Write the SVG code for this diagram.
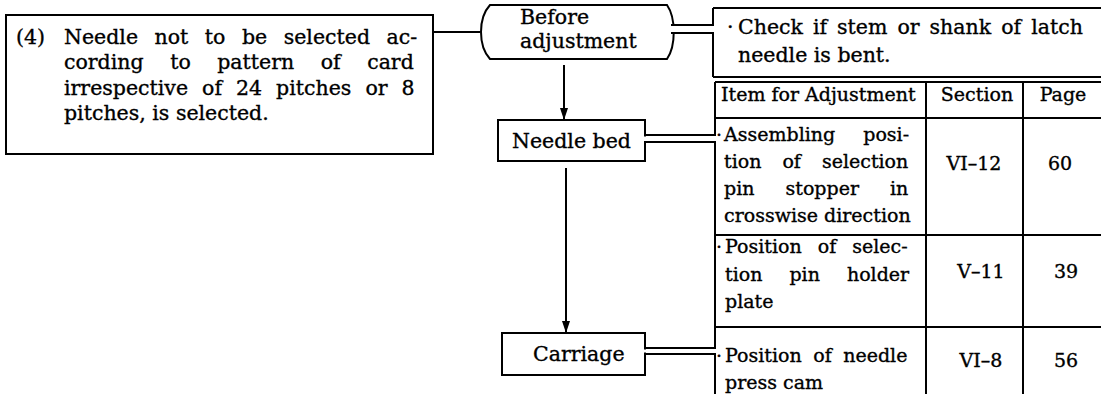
<svg xmlns="http://www.w3.org/2000/svg" width="1101" height="394" viewBox="0 0 1101 394">
<style>
text{font-family:"DejaVu Serif","Liberation Serif",serif;fill:#000;stroke:#000;stroke-width:0.35}
.t20{font-size:20.5px}
.t19{font-size:19px}
.hd{font-size:19px}
.box{fill:#fff;stroke:#000;stroke-width:2}
.ln{fill:none;stroke:#000;stroke-width:2}
.gap{fill:#fff;stroke:none}
.mid{text-anchor:middle}
</style>
<defs>
<marker id="arr" viewBox="0 0 12 8" refX="12" refY="4" markerWidth="12" markerHeight="8" markerUnits="userSpaceOnUse" orient="auto">
<path d="M0,0 L12,4 L0,8 Z" fill="#000"/>
</marker>
</defs>

<g id="problem">
<rect class="box" x="6" y="15" width="427" height="139"/>
<text class="t20" x="16" y="44">(4)</text>
<text class="t20" x="64" y="44" word-spacing="10">Needle not to be selected ac-</text>
<text class="t20" x="64" y="69" word-spacing="20">cording to pattern of card</text>
<text class="t20" x="64" y="95" word-spacing="7.5">irrespective of 24 pitches or 8</text>
<text class="t20" x="64" y="120">pitches, is selected.</text>
</g>

<g id="before-adjustment">
<path class="box" d="M490,5 L667,5 C676,18 676,46 667,59 L490,59 C478,46 478,18 490,5 Z"/>
<text class="t20" x="520" y="24" font-size="20">Before</text>
<text class="t20" x="520" y="47.5" font-size="20">adjustment</text>
</g>

<g id="needle-bed">
<rect class="box" x="498" y="120" width="147" height="41"/>
<text class="t20" x="512" y="148" font-size="20">Needle bed</text>
</g>

<g id="carriage">
<rect class="box" x="502" y="333" width="143" height="42"/>
<text class="t20" x="533" y="361" font-size="20">Carriage</text>
</g>

<g id="check">
<path class="ln" d="M1101,8 H713 M713,77 H1101"/>
<text class="t20" x="727" y="34" font-size="20">·</text>
<text class="t20" x="738" y="34" font-size="20" word-spacing="3.5">Check if stem or shank of latch</text>
<text class="t20" x="738" y="62" font-size="20">needle is bent.</text>
</g>

<g id="table">
<path class="ln" d="M715,82 H1101 M715,118 H1101 M715,235 H1101 M715,327 H1101 M926,82 V394 M1023,82 V394"/>
<text class="hd" x="721" y="101">Item for Adjustment</text>
<text class="hd mid" x="977" y="101">Section</text>
<text class="hd mid" x="1063" y="101">Page</text>

<text class="t19" x="716" y="141">·</text>
<text class="t19" x="724" y="141" word-spacing="22">Assembling posi-</text>
<text class="t19" x="724" y="168" word-spacing="15">tion of selection</text>
<text class="t19" x="724" y="195" word-spacing="25">pin stopper in</text>
<text class="t19" x="724" y="222">crosswise direction</text>
<text class="t19 mid" x="974" y="170">VI–12</text>
<text class="t19 mid" x="1060" y="170">60</text>

<text class="t19" x="716" y="253">·</text>
<text class="t19" x="725" y="253" word-spacing="10">Position of selec-</text>
<text class="t19" x="725" y="281" word-spacing="21">tion pin holder</text>
<text class="t19" x="725" y="308">plate</text>
<text class="t19 mid" x="981" y="278">V–11</text>
<text class="t19 mid" x="1066" y="278">39</text>

<text class="t19" x="716" y="362">·</text>
<text class="t19" x="725" y="362" word-spacing="5.5">Position of needle</text>
<text class="t19" x="725" y="389">press cam</text>
<text class="t19 mid" x="981" y="367">VI–8</text>
<text class="t19 mid" x="1066" y="367">56</text>
</g>

<g id="connectors">
<path class="ln" d="M433,32 H480"/>
<rect class="gap" x="666" y="26" width="10" height="6"/>
<path class="ln" d="M671,25 H713 V8 M671,33 H713 V77"/>
<rect class="gap" x="643" y="136.5" width="5" height="4.5"/>
<path class="ln" d="M645,135 H715 V82 M645,142 H715 V348 H645"/>
<rect class="gap" x="643" y="349.5" width="5" height="3"/>
<path class="ln" d="M645,354 H715 V394"/>
<line class="ln" x1="564" y1="65" x2="564" y2="120" marker-end="url(#arr)"/>
<line class="ln" x1="566" y1="168" x2="566" y2="333" marker-end="url(#arr)"/>
</g>
</svg>
